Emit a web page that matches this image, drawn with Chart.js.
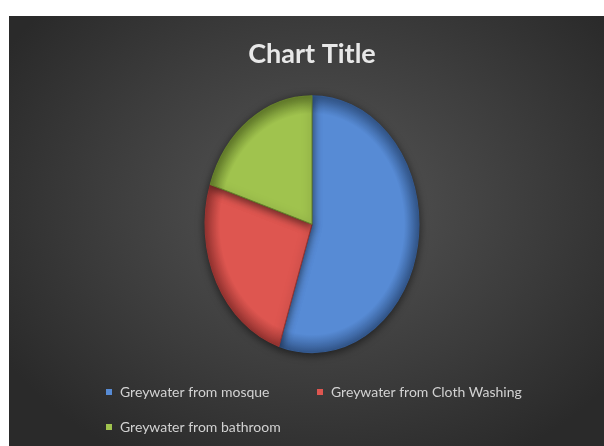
<!DOCTYPE html>
<html>
<head>
<meta charset="utf-8">
<script src="https://cdn.jsdelivr.net/npm/chart.js@4.4.0/dist/chart.umd.min.js"></script>
<style>
  body { margin: 0; background: #fff; }
  #wrap {
    position: absolute; left: 9px; top: 16px; width: 595px; height: 430px;
    background: radial-gradient(ellipse 62% 68% at 52% 44%, #565656 0%, #3c3c3c 60%, #2a2a2a 100%);
  }
</style>
</head>
<body>
<div id="wrap"><canvas id="myChart"></canvas></div>
<script>
const labels = ['Greywater from mosque', 'Greywater from Cloth Washing', 'Greywater from bathroom'];
const values = [55, 25, 20];
const colors = ['#578BD5', '#DE5650', '#A0C34E'];
const rimColors = ['#34598F', '#9A3532', '#66802C'];

const pieRadius = 107;
const stretch = 1.2; // the pie in the picture is taller than wide

// draw the pie as an ellipse, with a soft shadow
const ellipsePie = {
  id: 'ellipsePie',
  beforeDatasetsDraw(chart) {
    const arc = chart.getDatasetMeta(0).data[0];
    const ctx = chart.ctx;
    ctx.save();
    ctx.translate(arc.x, arc.y);
    ctx.scale(1, stretch);
    ctx.translate(-arc.x, -arc.y);
    ctx.shadowColor = 'rgba(0,0,0,0.55)';
    ctx.shadowBlur = 9;
    ctx.shadowOffsetY = 2;
  },
  afterDatasetsDraw(chart) {
    chart.ctx.restore();
  }
};

// legend in two columns, like the original
const gridLegend = {
  id: 'gridLegend',
  afterDraw(chart) {
    const ctx = chart.ctx;
    const left = 97, colWidth = 211, top = 376, rowGap = 35, box = 6;
    ctx.save();
    ctx.font = '14px Lato';
    ctx.textBaseline = 'middle';
    labels.forEach((lab, i) => {
      const x = left + (i % 2) * colWidth;
      const y = top + Math.floor(i / 2) * rowGap;
      ctx.fillStyle = colors[i];
      ctx.fillRect(x, y - box / 2, box, box);
      ctx.fillStyle = '#d2d2d2';
      ctx.fillText(lab, x + box + 8, y);
    });
    ctx.restore();
  }
};

const ctx = document.getElementById('myChart');

new Chart(ctx, {
  type: 'pie',
  data: {
    labels: labels,
    datasets: [{
      data: values,
      radius: pieRadius,
      backgroundColor: (c) => {
        const ca = c.chart.chartArea;
        const i = c.dataIndex;
        if (!ca) return colors[i];
        const cx = (ca.left + ca.right) / 2, cy = (ca.top + ca.bottom) / 2;
        const g = c.chart.ctx.createRadialGradient(cx, cy, 0, cx, cy, pieRadius);
        g.addColorStop(0, colors[i]);
        g.addColorStop(0.86, colors[i]);
        g.addColorStop(1, rimColors[i]);
        return g;
      },
      borderColor: rimColors,
      borderWidth: 1
    }]
  },
  options: {
    responsive: true,
    maintainAspectRatio: false,
    animation: false,
    layout: { padding: { left: 11, right: 0, top: 0, bottom: 78 } },
    plugins: {
      legend: { display: false },
      tooltip: { enabled: false },
      title: {
        display: true,
        text: 'Chart Title',
        color: '#e8e8e8',
        font: { family: 'Lato', size: 27, weight: 'bold' },
        padding: { top: 22, bottom: 10 }
      }
    }
  },
  plugins: [ellipsePie, gridLegend]
});
</script>
</body>
</html>
